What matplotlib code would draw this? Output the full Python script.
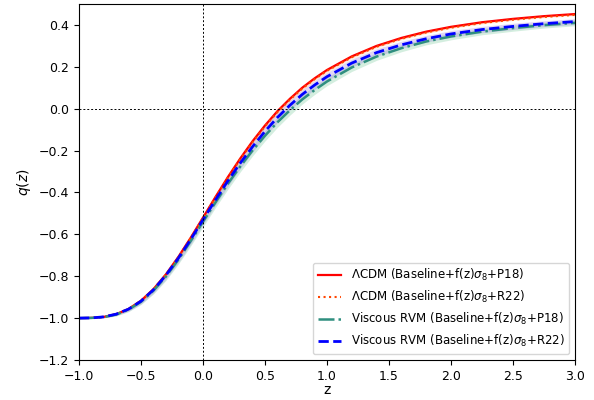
import numpy as np
import matplotlib
matplotlib.use("Agg")
import matplotlib.pyplot as plt

z = [-1.0, -0.9, -0.8, -0.7, -0.6, -0.5, -0.4, -0.3, -0.2, -0.1,
     0.0, 0.1, 0.2, 0.3, 0.4, 0.5, 0.6, 0.7, 0.8, 0.9,
     1.0, 1.2, 1.4, 1.6, 1.8, 2.0, 2.25, 2.5, 2.75, 3.0]

# LCDM (Baseline+f(z)s8+P18)
q_lcdm_p18 = [-1.000, -0.999, -0.994, -0.981, -0.956, -0.917, -0.862, -0.792, -0.709, -0.617,
              -0.520, -0.422, -0.327, -0.238, -0.155, -0.080, -0.012, 0.047, 0.100, 0.145,
              0.185, 0.250, 0.300, 0.338, 0.368, 0.391, 0.413, 0.429, 0.442, 0.452]
# LCDM (Baseline+f(z)s8+R22)
q_lcdm_r22 = [-1.000, -0.999, -0.994, -0.981, -0.956, -0.917, -0.863, -0.793, -0.710, -0.619,
              -0.522, -0.425, -0.330, -0.242, -0.159, -0.084, -0.016, 0.043, 0.096, 0.141,
              0.181, 0.246, 0.296, 0.334, 0.364, 0.387, 0.409, 0.425, 0.438, 0.448]
# Viscous RVM (Baseline+f(z)s8+P18)
q_rvm_p18 = [-1.000, -0.999, -0.995, -0.983, -0.959, -0.922, -0.869, -0.802, -0.722, -0.633,
             -0.540, -0.448, -0.359, -0.276, -0.199, -0.129, -0.065, -0.008, 0.044, 0.089,
             0.130, 0.197, 0.249, 0.289, 0.321, 0.345, 0.368, 0.385, 0.399, 0.410]
# Viscous RVM (Baseline+f(z)s8+R22)
q_rvm_r22 = [-1.000, -0.999, -0.994, -0.981, -0.957, -0.919, -0.865, -0.796, -0.715, -0.625,
             -0.530, -0.436, -0.345, -0.260, -0.181, -0.108, -0.042, 0.016, 0.068, 0.113,
             0.153, 0.218, 0.268, 0.305, 0.334, 0.357, 0.378, 0.393, 0.406, 0.416]

# 1 sigma half widths of the shaded bands
err_lcdm = [0.000, 0.001, 0.002, 0.004, 0.006, 0.008, 0.010, 0.011, 0.012, 0.012,
            0.012, 0.012, 0.012, 0.011, 0.011, 0.010, 0.010, 0.009, 0.009, 0.008,
            0.008, 0.007, 0.007, 0.006, 0.006, 0.005, 0.005, 0.004, 0.004, 0.004]
err_rvm = [0.000, 0.002, 0.004, 0.007, 0.010, 0.013, 0.016, 0.019, 0.021, 0.023,
           0.024, 0.025, 0.026, 0.026, 0.026, 0.025, 0.024, 0.023, 0.022, 0.021,
           0.020, 0.019, 0.018, 0.017, 0.016, 0.016, 0.015, 0.015, 0.014, 0.014]

labels = [r"$\Lambda$CDM (Baseline+f(z)$\sigma_8$+P18)",
          r"$\Lambda$CDM (Baseline+f(z)$\sigma_8$+R22)",
          r"Viscous RVM (Baseline+f(z)$\sigma_8$+P18)",
          r"Viscous RVM (Baseline+f(z)$\sigma_8$+R22)"]

z = np.array(z)
e1 = np.array(err_lcdm)
e2 = np.array(err_rvm)

fig = plt.figure(figsize=(5.94, 4.0), dpi=100)
ax = fig.add_axes([0.133, 0.1, 0.835, 0.89])

# bands
ax.fill_between(z, np.array(q_lcdm_p18) - e1, np.array(q_lcdm_p18) + e1, color="red", alpha=0.12, lw=0)
ax.fill_between(z, np.array(q_lcdm_r22) - e1, np.array(q_lcdm_r22) + e1, color="orange", alpha=0.12, lw=0)
ax.fill_between(z, np.array(q_rvm_p18) - e2, np.array(q_rvm_p18) + e2, color="mediumseagreen", alpha=0.22, lw=0)
ax.fill_between(z, np.array(q_rvm_r22) - e2, np.array(q_rvm_r22) + e2, color="mediumpurple", alpha=0.28, lw=0)

# curves
ax.plot(z, q_lcdm_p18, color="red", lw=1.6, label=labels[0])
ax.plot(z, q_lcdm_r22, color="orangered", lw=1.5, ls=":", label=labels[1])
ax.plot(z, q_rvm_p18, color="#2f8f7f", lw=1.8, ls="-.", label=labels[2])
ax.plot(z, q_rvm_r22, color="blue", lw=2.0, ls="--", label=labels[3])

# reference lines
ax.axhline(0, color="black", lw=0.7, ls=(0, (2, 2)))
ax.axvline(0, color="black", lw=0.7, ls=(0, (2, 2)))

ax.set_xlim(-1, 3)
ax.set_ylim(-1.2, 0.5)
ax.set_xticks([-1.0, -0.5, 0.0, 0.5, 1.0, 1.5, 2.0, 2.5, 3.0])
ax.set_yticks([-1.2, -1.0, -0.8, -0.6, -0.4, -0.2, 0.0, 0.2, 0.4])
ax.tick_params(labelsize=9)
ax.set_xlabel("z", fontsize=10, labelpad=0)
ax.set_ylabel("$q(z)$", fontsize=10)
ax.legend(loc="lower right", fontsize=8.5)

fig.savefig("out.png", dpi=100)
